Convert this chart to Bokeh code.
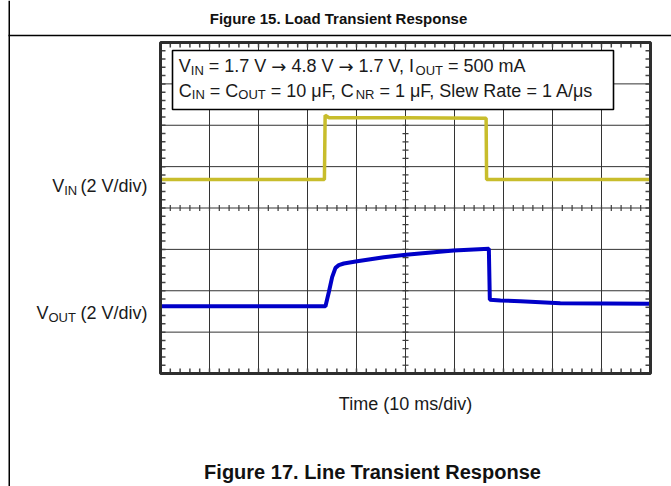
from bokeh.plotting import figure
from bokeh.models import Range1d
from bokeh.core.properties import value
from bokeh.embed import file_html
from bokeh.resources import INLINE

# ---------------- data ----------------
# time in ms (10 ms/div), vertical position in screen divisions (2 V/div)
vin_t = [0, 33.45, 33.6, 34.4, 50.0, 66.45, 66.55, 100]
vin_div = [4.69, 4.69, 6.24, 6.18, 6.18, 6.17, 4.69, 4.69]

vout_t = [0, 33.67, 34.35, 35.03, 35.71, 36.39, 37.41, 40.14, 45.58, 50.07,
          55.78, 59.86, 63.95, 67.01, 67.21, 69.39, 73.47, 81.6, 100]
vout_div = [1.627, 1.627, 1.965, 2.328, 2.554, 2.618, 2.659, 2.714, 2.811, 2.868,
            2.932, 2.973, 2.997, 3.013, 1.781, 1.764, 1.748, 1.697, 1.685]

t_grid = list(range(0, 101, 10))      # 10 divisions of 10 ms
v_grid = list(range(0, 9))            # 8 divisions
t_minor = [i * 2 for i in range(51)]  # 5 minor ticks / div
v_minor = [i * 0.2 for i in range(41)]

title_top = "Figure 15. Load Transient Response"
title_bottom = "Figure 17. Line Transient Response"
x_label = "Time (10 ms/div)"
ch_scale = "(2 V/div)"

# ---------------- layout ----------------
W, H = 671, 486
PX_MS = 4.9        # frame pixels per ms (49 px per div)
PX_DIV = 41.375    # frame pixels per vertical div
FR_L, FR_T = 160, 42   # scope frame left/top in canvas pixels
FR_B = FR_T + 8 * PX_DIV

X0 = -FR_L / PX_MS
X1 = X0 + W / PX_MS
Y1 = FR_B / PX_DIV
Y0 = Y1 - H / PX_DIV

p = figure(width=W, height=H, x_range=Range1d(X0, X1), y_range=Range1d(Y0, Y1),
           x_axis_type=None, y_axis_type=None, toolbar_location=None,
           output_backend="svg", min_border=0, outline_line_color=None,
           background_fill_color="white", border_fill_color="white")
p.extra_x_ranges = {"px": Range1d(0, W)}
p.extra_y_ranges = {"px": Range1d(H, 0)}

FONT = "Liberation Sans"
TXT = "#1a1a1a"

# outer cell lines
p.segment(x0=[8.75, 8], y0=[0, 35], x1=[8.75, W], y1=[H, 35],
          line_color="black", line_width=1.5, x_range_name="px", y_range_name="px")

# grid
gx = t_grid[1:-1]
p.segment(x0=gx, y0=[0] * len(gx), x1=gx, y1=[8] * len(gx), line_color="#333333", line_width=1)
gy = v_grid[1:-1]
p.segment(x0=[0] * len(gy), y0=gy, x1=[100] * len(gy), y1=gy, line_color="#333333", line_width=1)

# minor ticks on centre lines (6 px long)
hx = 3 / PX_MS
hy = 3 / PX_DIV
p.segment(x0=[50 - hx] * len(v_minor), y0=v_minor, x1=[50 + hx] * len(v_minor), y1=v_minor,
          line_color="#3c3c3c", line_width=1.2)
p.segment(x0=t_minor, y0=[4 - hy] * len(t_minor), x1=t_minor, y1=[4 + hy] * len(t_minor),
          line_color="#3c3c3c", line_width=1.2)
# minor ticks on frame edges (inward, 5 px)
ex = 5 / PX_MS
ey = 5 / PX_DIV
p.segment(x0=[0] * len(v_minor), y0=v_minor, x1=[ex] * len(v_minor), y1=v_minor,
          line_color="#444444", line_width=1.5)
p.segment(x0=[100] * len(v_minor), y0=v_minor, x1=[100 - ex] * len(v_minor), y1=v_minor,
          line_color="#444444", line_width=1.5)
p.segment(x0=t_minor, y0=[0] * len(t_minor), x1=t_minor, y1=[ey] * len(t_minor),
          line_color="#444444", line_width=1.5)
p.segment(x0=t_minor, y0=[8] * len(t_minor), x1=t_minor, y1=[8 - ey] * len(t_minor),
          line_color="#444444", line_width=1.5)

# traces
p.line(vin_t, vin_div, line_color="#c8bd2c", line_width=3.5)
p.line(vout_t, vout_div, line_color="#0000c8", line_width=4)

# frame border
p.quad(left=[0], right=[100], bottom=[0], top=[8], fill_color=None,
       line_color="#2e2e2e", line_width=3)

# annotation box
p.quad(left=[172], right=[613], top=[50], bottom=[109], fill_color="white",
       line_color="black", line_width=1.6, x_range_name="px", y_range_name="px")

# ---- text helpers ----
AW = {' ': 278, '(': 333, ')': 333, ',': 278, '.': 278, '/': 278, '=': 584,
      'A': 667, 'C': 722, 'F': 611, 'I': 278, 'N': 722, 'O': 778, 'R': 722,
      'S': 667, 'T': 611, 'U': 722, 'V': 667, 'a': 556, 'd': 556, 'e': 556,
      'i': 222, 'l': 222, 'm': 833, 's': 500, 't': 278, 'v': 500, 'w': 722,
      '\u03bc': 576}
ARROW_W = 838  # DejaVu Sans arrow advance


def tw(s, size, kind=0):
    if kind == 2:
        return ARROW_W / 1000.0 * size * len(s)
    return sum(AW.get(c, 556) for c in s) / 1000.0 * size


def runs(x, yb, parts, main=18, sub=13, drop=4):
    for s, kind in parts:
        size = sub if kind == 1 else main
        lead = len(s) - len(s.lstrip(' '))
        x += tw(' ' * lead, size)
        s2 = s.lstrip(' ')
        font = "DejaVu Sans" if kind == 2 else FONT
        p.text(x=[x], y=[yb + (drop if kind == 1 else 0)], text=[s2],
               text_font=value(font), text_font_size=f"{size}px", text_color=TXT,
               text_baseline="alphabetic", text_align="left",
               x_range_name="px", y_range_name="px")
        x += tw(s2, size, kind)


ARR = "\u2192"
runs(178.3, 65.7, [("V", 0), ("IN", 1), (" = 1.7 V ", 0), (ARR, 2), (" 4.8 V ", 0),
                   (ARR, 2), (" 1.7 V, I", 0), ("OUT", 1), (" = 500 mA", 0)])
runs(178.3, 90, [("C", 0), ("IN", 1), (" = C", 0), ("OUT", 1), (" = 10 \u03bcF, C", 0),
                 ("NR", 1), (" = 1 \u03bcF, Slew Rate = 1 A/\u03bcs", 0)])

# channel labels
runs(51.7, 185.7, [("V", 0), ("IN", 1)])
runs(36, 312.5, [("V", 0), ("OUT", 1)])
p.text(x=[80, 80], y=[185.7, 312.5], text=[ch_scale, ch_scale], text_font=value(FONT),
       text_font_size="18px", text_color=TXT, text_baseline="alphabetic",
       x_range_name="px", y_range_name="px")

# x label and titles
p.text(x=[405], y=[403.3], text=[x_label], text_font=value(FONT), text_font_size="18px",
       text_color=TXT, text_align="center", text_baseline="alphabetic",
       x_range_name="px", y_range_name="px")
p.text(x=[338], y=[18], text=[title_top], text_font=value(FONT), text_font_size="15px",
       text_font_style="bold", text_color="#111111", text_align="center",
       text_baseline="alphabetic", x_range_name="px", y_range_name="px")
p.text(x=[372], y=[471], text=[title_bottom], text_font=value(FONT), text_font_size="20px",
       text_font_style="bold", text_color="#111111", text_align="center",
       text_baseline="alphabetic", x_range_name="px", y_range_name="px")

open("out.html", "w").write(file_html(p, INLINE))
